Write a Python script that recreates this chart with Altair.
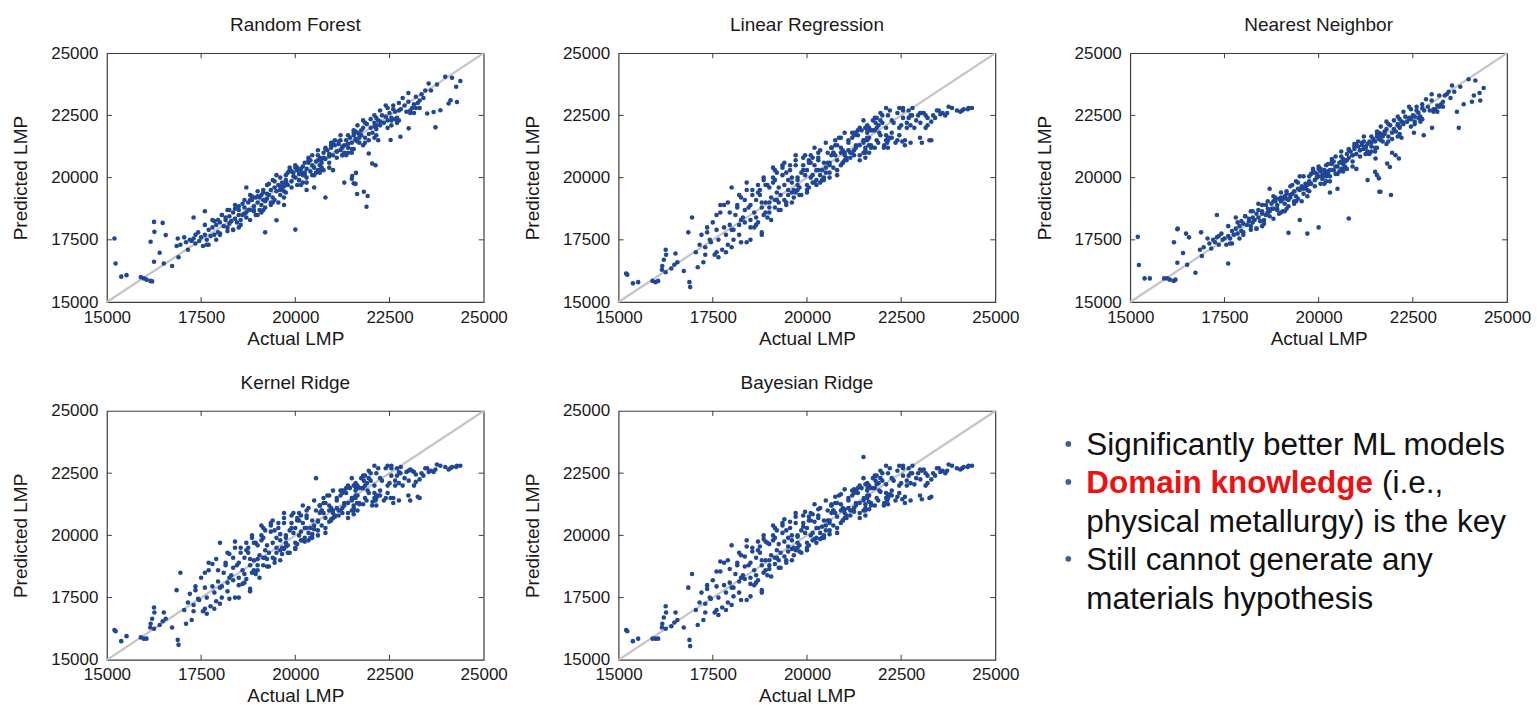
import altair as alt
import pandas as pd

# Actual LMP of the test samples (shared by all five models)
ACTUAL = [
    15200, 15230, 15380, 15520, 15900, 15980, 16050, 16150, 16200, 16160,
    16250, 16260, 16480, 16560, 16400, 16250, 16510, 16730, 16850, 16880,
    16900, 16950, 17050, 17100, 17150, 17200, 17250, 17300, 17350, 17420,
    17450, 17500, 17550, 17600, 17650, 17700, 17750, 17800, 17850, 17900,
    17950, 18000, 18050, 18100, 18150, 18200, 18250, 18300, 18350, 18400,
    17300, 17600, 17800, 18000, 18200, 18400, 18450, 18500, 18550, 18600,
    18650, 18700, 18750, 18800, 18850, 18900, 18950, 19000, 19050, 19100,
    18500, 18600, 18700, 18800, 18900, 19000, 19100, 19150, 19200, 19250,
    19300, 19350, 19400, 19450, 19500, 19550, 19600, 19650, 19700, 19750,
    19200, 19300, 19400, 19500, 19600, 19700, 19800, 19850, 19900, 19950,
    20000, 20050, 20100, 20150, 20200, 20250, 20300, 20350, 20400, 20450,
    19800, 19900, 20000, 20100, 20200, 20300, 20400, 20500, 20550, 20600,
    20650, 20700, 20750, 20800, 20850, 20900, 20950, 21000, 21050, 21100,
    20500, 20600, 20700, 20800, 20900, 21000, 21100, 21150, 21200, 21250,
    21300, 21350, 21400, 21450, 21500, 21550, 21600, 21650, 21700, 21750,
    21200, 21300, 21400, 21500, 21600, 21700, 21800, 21850, 21900, 21950,
    22000, 22050, 22100, 22150, 22200, 22250, 22300, 22350, 22400, 22450,
    21500, 21600, 21640, 21820, 21920, 21890, 21510, 21610, 21550, 22040,
    22130, 21950, 22530, 22790, 23010, 23720, 22500, 22600, 22700, 22800,
    22900, 23000, 23100, 23200, 23300, 23400, 22550, 22750, 22950, 23150,
    23500, 23670, 23850, 24070, 24290, 24120, 23540, 23760, 23980, 24160,
    24380, 24270, 23350, 23250, 23600, 21000, 20500, 20000, 19500, 19000,
    18500, 18000, 20800, 21300, 21800, 22200, 20300, 19700, 19200, 18700,
    20100, 20600, 21100, 21600, 19600, 20900, 21400, 21700, 22100, 20700,
    18250, 18750, 19250, 19750, 20250, 20750, 21250, 21750, 22250, 22650,
    18150, 18650, 19150, 19650, 20150, 20650, 21150, 21650, 22150, 22550,
    17600, 17900, 18200, 18500, 18800, 19100, 19400, 19700, 20000, 20300,
    20600, 20900, 21200, 21500, 21800, 22100, 22400, 22700, 23000, 23300,
    17700, 18050, 18350, 18650, 18950, 19250, 19550, 19850, 20150, 20450,
    20750, 21050, 21350, 21650, 21950, 22250, 22550, 22850, 23150, 23450,
    18900, 19150, 19450, 19750, 20050, 20350, 20650, 20950, 21250, 21550,
    21850, 22150, 22450, 22750, 23050, 19050, 19350, 19950, 20250, 20550,
    17350, 17650, 17950, 18250, 18550, 18850, 19150, 19450, 19750, 20050,
    20350, 20650, 20950, 21250, 21550, 21850, 22150, 22450, 22750, 23050,
    19000, 19600, 20200, 20800, 21400, 22000, 22600, 23200, 18400, 18800,
    19350, 19900, 20450, 21000, 21550, 22100, 22650, 17850, 18350, 18850,
]

PRED_RF = [
    17550, 16550, 16020, 16080, 16000, 15950, 15900, 15850, 15830, 17420,
    18220, 17820, 18180, 17690, 16980, 16620, 16550, 16450, 17250, 17550,
    16800, 17300, 17600, 17400, 17100, 17500, 17450, 17550, 17350, 17800,
    17450, 17600, 17250, 17700, 17500, 17900, 17650, 18000, 17700, 18100,
    17800, 18200, 18500, 18050, 18300, 18000, 18450, 18250, 18600, 18350,
    18400, 18650, 18300, 17750, 17850, 18900, 18200, 18700, 18300, 18500,
    18800, 18600, 19000, 18700, 19100, 18850, 19200, 19000, 18700, 19300,
    18500, 18950, 18400, 19100, 18650, 19250, 18900, 19400, 19050, 19150,
    19300, 19500, 19200, 19600, 19450, 19700, 19500, 19800, 19650, 19900,
    18800, 19750, 19000, 20100, 19300, 19450, 19700, 20400, 19850, 20050,
    20000, 20300, 19900, 20200, 20450, 20100, 20350, 20600, 20250, 20500,
    20200, 19600, 20400, 19900, 20100, 20000, 20700, 20400, 20650, 20300,
    20800, 20600, 21000, 20750, 21100, 20850, 21200, 20900, 21300, 21050,
    20100, 20900, 20400, 21150, 20600, 21350, 20800, 21450, 21100, 21250,
    21300, 21500, 21200, 21600, 21400, 21700, 21500, 21800, 21600, 21900,
    21500, 21000, 21700, 21150, 21850, 21400, 22000, 21600, 22150, 21750,
    22000, 21800, 22200, 21950, 22300, 22100, 22500, 22200, 22450, 22300,
    19950, 19750, 19340, 19430, 19260, 18830, 20060, 20190, 19770, 20570,
    20500, 20970, 21510, 21640, 21980, 22020, 22600, 22900, 22400, 22750,
    22900, 23050, 22800, 23250, 23100, 23200, 22300, 22700, 22650, 22950,
    22580, 22640, 22710, 22980, 23040, 23110, 23780, 23740, 24050, 24010,
    23880, 23650, 23350, 23000, 23500, 20300, 19600, 17910, 18290, 18500,
    18850, 17700, 19200, 19800, 21300, 21500, 19500, 18900, 17800, 19600,
    20150, 20700, 21050, 21550, 19650, 20950, 21350, 21750, 22050, 20750,
    18150, 18700, 19350, 19800, 20200, 20800, 21200, 21700, 22250, 22650,
    18400, 18550, 19100, 19550, 20350, 20500, 21350, 21450, 22100, 22400,
    18100, 17500, 18700, 18000, 19300, 18600, 19900, 19200, 20500, 19800,
    21100, 20400, 21700, 21000, 22300, 21600, 22900, 22200, 23400, 22800,
    17300, 18500, 17900, 19100, 18500, 19700, 19000, 20300, 19700, 20900,
    20300, 21500, 20900, 22100, 21500, 22700, 22100, 23200, 22600, 23500,
    18700, 19500, 19100, 20100, 19700, 20800, 20300, 21400, 20900, 21900,
    22200, 21700, 22800, 22300, 22700, 19200, 18900, 20200, 20600, 20200,
    17700, 17300, 18300, 18700, 18100, 19200, 18700, 19850, 19400, 20400,
    20700, 20200, 21300, 20900, 21800, 21400, 22400, 22000, 23000, 22600,
    19450, 20000, 19800, 21200, 21000, 22350, 22750, 22800, 18750, 18300,
    19000, 20250, 20100, 21400, 21150, 22500, 22350, 18250, 17900, 19250,
]

PRED_NN = [
    17620, 16490, 15950, 15950, 15950, 15950, 15900, 15850, 15900, 17400,
    17930, 17950, 17750, 17600, 16970, 16580, 16500, 16180, 17100, 17800,
    16850, 17200, 17550, 17350, 17150, 17500, 17400, 17600, 17300, 17750,
    17500, 17550, 17300, 17650, 17550, 17850, 17700, 17950, 17750, 18050,
    17850, 18150, 18450, 18100, 18250, 18050, 18400, 18300, 18550, 18400,
    18500, 16550, 18400, 17700, 17900, 18950, 18250, 18650, 18300, 18500,
    18750, 18650, 18950, 18750, 19050, 18900, 19150, 19050, 18650, 19250,
    18550, 18900, 18450, 19050, 18700, 19200, 18950, 19350, 19100, 19200,
    19350, 19450, 19250, 19550, 19500, 19650, 19550, 19750, 19700, 19850,
    18850, 19700, 19050, 20050, 19350, 19500, 19750, 20350, 19900, 20000,
    20050, 20250, 19950, 20150, 20500, 20150, 20300, 20550, 20300, 20450,
    20150, 19650, 20350, 19950, 20050, 20050, 20650, 20450, 20600, 20350,
    20750, 20650, 20950, 20800, 21050, 20900, 21150, 20950, 21250, 21100,
    20150, 20850, 20450, 21100, 20650, 21300, 20850, 21400, 21150, 21200,
    21350, 21450, 21250, 21550, 21450, 21650, 21550, 21750, 21650, 21850,
    21450, 21050, 21650, 21200, 21800, 21450, 21950, 21650, 22100, 21800,
    21950, 21850, 22150, 22000, 22250, 22150, 22450, 22250, 22400, 22350,
    20230, 19970, 19430, 20570, 19300, 20430, 20770, 19430, 20100, 20900,
    20770, 21000, 21800, 21700, 22000, 22000, 22500, 22850, 22450, 22700,
    22850, 23100, 22750, 23300, 23050, 23350, 22250, 22800, 22700, 22900,
    23200, 22650, 22950, 23050, 23100, 23300, 23700, 23650, 23950, 23900,
    23600, 23400, 23300, 22950, 23450, 20350, 19550, 18000, 18300, 18600,
    18900, 17800, 18360, 19900, 21350, 21600, 19400, 17750, 17780, 19550,
    20100, 20650, 21100, 21600, 19600, 20900, 21400, 21700, 22100, 20700,
    18200, 18750, 19300, 19750, 20250, 20700, 21250, 21750, 22200, 22600,
    18350, 18600, 19150, 19600, 20300, 20550, 21300, 21500, 22050, 22450,
    18050, 17550, 18650, 18050, 19250, 18650, 19850, 19250, 20450, 19850,
    21050, 20450, 21650, 21050, 22250, 21650, 22850, 22250, 23350, 22850,
    17350, 18450, 17950, 19050, 18550, 19650, 19050, 20250, 19750, 20850,
    20350, 21450, 20950, 22050, 21550, 22650, 22150, 23150, 22650, 23450,
    18750, 19450, 19150, 20050, 19750, 20750, 20350, 21350, 20950, 21850,
    22150, 21750, 22750, 22350, 22750, 19150, 18950, 20150, 20550, 20250,
    17650, 17350, 18250, 18650, 18150, 19150, 18750, 19800, 19450, 20350,
    20650, 20250, 21250, 20950, 21750, 21450, 22350, 22050, 22950, 22650,
    19400, 20050, 19850, 21150, 21050, 22300, 22700, 22850, 18700, 18350,
    19050, 20200, 20150, 21350, 21200, 22450, 22400, 18200, 17950, 19200,
]

PRED_LR = [
    16150, 16100, 15750, 15800, 15850, 15800, 15850, 16300, 16700, 16450,
    17100, 16900, 16500, 16600, 16350, 16200, 16950, 16250, 17800, 15800,
    15600, 18400, 17000, 16400, 17300, 17700, 16600, 17200, 18000, 17500,
    17400, 18200, 16900, 17900, 17500, 18600, 17100, 18000, 17700, 19000,
    18100, 19600, 17500, 18500, 18900, 17700, 19200, 18400, 18700, 19800,
    16900, 17000, 18900, 17200, 18100, 17400, 18800, 18300, 19300, 18600,
    19100, 18200, 19500, 18800, 19900, 19000, 18400, 19600, 19200, 20000,
    18900, 18000, 19700, 17800, 18600, 19000, 19800, 18800, 19400, 19600,
    19300, 20100, 19700, 18900, 19500, 20300, 19800, 19200, 20500, 19700,
    20200, 18700, 20600, 19900, 20000, 20700, 19600, 20200, 20800, 20100,
    20300, 19600, 20900, 20100, 20500, 19900, 20700, 21100, 20300, 20600,
    19300, 20500, 19500, 20600, 19800, 20300, 19900, 21400, 20600, 20200,
    20900, 20400, 21300, 20700, 21600, 20500, 21100, 21800, 20800, 21400,
    20200, 20000, 21000, 20300, 21200, 20700, 21500, 21000, 21800, 20900,
    21200, 21700, 20900, 21900, 21500, 21100, 22100, 21600, 21300, 22300,
    21600, 21300, 22000, 21400, 21800, 21200, 22400, 21500, 22100, 21700,
    22500, 21300, 22000, 21500, 22700, 21800, 22200, 21400, 22600, 22000,
    21000, 21600, 21300, 22200, 21800, 21400, 21500, 21900, 20800, 21200,
    21400, 22300, 21450, 22500, 22200, 22600, 22100, 21500, 22400, 22800,
    22300, 21600, 22600, 22100, 21500, 22400, 22700, 21400, 22500, 22000,
    22700, 22500, 22800, 22650, 22800, 22700, 22550, 22850, 22700, 22750,
    22800, 22750, 22500, 21500, 22600, 21000, 20400, 19700, 19300, 18800,
    17500, 17900, 20100, 21800, 21900, 21600, 20800, 19400, 19100, 19400,
    20000, 20600, 21100, 21500, 19400, 21000, 21300, 21900, 21700, 21000,
    18300, 19300, 19000, 20000, 20300, 20900, 21100, 21900, 22300, 22000,
    18800, 18400, 19900, 19500, 19800, 21200, 20800, 22000, 21600, 22400,
    18500, 17300, 19300, 18000, 19000, 20400, 19100, 20900, 19400, 21000,
    20500, 21600, 21000, 22300, 21200, 22800, 21500, 22700, 22600, 22250,
    18900, 17900, 19100, 18100, 19700, 18700, 20500, 19300, 20800, 19900,
    21500, 20700, 21900, 21000, 22600, 21600, 22800, 22000, 22500, 22700,
    19700, 19100, 20200, 19500, 20700, 20100, 21200, 20600, 21700, 21200,
    22000, 22500, 21700, 22500, 21400, 18300, 20400, 20900, 19700, 21000,
    17800, 16800, 18600, 17400, 19500, 18500, 20300, 19000, 19900, 20600,
    19800, 21200, 20600, 21800, 21000, 22400, 21200, 22800, 22100, 22600,
    18600, 19000, 21200, 21300, 20700, 22200, 21300, 22400, 19500, 17700,
    20500, 20300, 20000, 20900, 22000, 21500, 22200, 17000, 18200, 20000,
]

PRED_KR = [
    16200, 16150, 15750, 15950, 15900, 15850, 15850, 16300, 16650, 16450,
    17100, 16900, 16550, 16650, 16400, 16250, 16900, 16300, 17800, 15800,
    15600, 18500, 17000, 16450, 17300, 17650, 16600, 17200, 17950, 17450,
    17400, 18300, 16950, 17900, 17500, 18600, 17150, 17950, 17700, 19050,
    18150, 19700, 17500, 18500, 18900, 17750, 19250, 18400, 18700, 19750,
    16950, 17050, 18850, 17250, 18100, 17500, 18800, 18300, 19300, 18600,
    19100, 18250, 19500, 18800, 19900, 19000, 18450, 19600, 19200, 20000,
    18900, 18050, 19700, 17850, 18600, 19050, 19800, 18800, 19400, 19600,
    19300, 20150, 19700, 18900, 19500, 20300, 19800, 19250, 20500, 19700,
    20200, 18750, 20600, 19900, 20050, 20700, 19600, 20200, 20800, 20100,
    20300, 19650, 20900, 20150, 20500, 19900, 20700, 21100, 20300, 20600,
    19300, 20500, 19500, 20600, 19800, 20300, 19900, 21400, 22300, 20200,
    20900, 20400, 21300, 20700, 21600, 20550, 21100, 21800, 20800, 21400,
    20250, 20000, 21000, 20300, 21200, 20700, 21500, 21000, 21800, 20900,
    21200, 21700, 20900, 21900, 21500, 21100, 22100, 21600, 21300, 22300,
    21600, 21300, 22000, 21400, 21800, 21250, 22400, 21500, 22100, 21700,
    22500, 21350, 22000, 21500, 22700, 21800, 22200, 21400, 22700, 22000,
    21000, 21600, 21300, 22200, 21800, 21400, 21500, 21900, 20850, 21200,
    21400, 22300, 21500, 22500, 22200, 22650, 22100, 21500, 22400, 22750,
    22300, 21600, 22600, 22150, 21500, 22400, 22700, 21400, 22550, 22000,
    22700, 22550, 22800, 22650, 22800, 22700, 22550, 22850, 22750, 22750,
    22800, 22750, 22500, 21550, 22600, 21000, 20400, 19700, 19300, 18800,
    17500, 17900, 20100, 21800, 21900, 21600, 20800, 19450, 19100, 19400,
    20000, 20600, 21100, 21500, 19400, 21000, 21300, 21900, 21700, 21000,
    18300, 19300, 19050, 20000, 20300, 20900, 21100, 21900, 22300, 22000,
    18800, 18450, 19900, 19500, 19800, 21200, 20800, 22000, 21600, 22400,
    18500, 17350, 19300, 18000, 19050, 20400, 19100, 20900, 19450, 21000,
    20550, 21600, 21000, 22300, 21250, 22800, 21500, 22700, 22600, 22250,
    18900, 17950, 19100, 18100, 19700, 18750, 20500, 19300, 20800, 19900,
    21500, 20750, 21900, 21000, 22600, 21600, 22800, 22000, 22550, 22700,
    19700, 19100, 20200, 19550, 20700, 20100, 21200, 20600, 21700, 21200,
    22000, 22500, 21700, 22550, 21400, 18300, 20400, 20900, 19750, 21000,
    17800, 16850, 18600, 17450, 19500, 18500, 20300, 19050, 19900, 20600,
    19800, 21200, 20650, 21800, 21000, 22400, 21200, 22800, 22100, 22650,
    18600, 19000, 21200, 21300, 20700, 22200, 21300, 22450, 19500, 17750,
    20500, 20300, 20050, 20900, 22000, 21500, 22200, 17050, 18200, 20000,
]

PRED_BR = [
    16200, 16150, 15750, 15850, 15850, 15850, 15850, 16300, 16700, 16450,
    17150, 16900, 16500, 16600, 16350, 16250, 16900, 16300, 17900, 15800,
    15550, 18450, 17000, 16400, 17300, 17700, 16600, 17250, 18000, 17500,
    17450, 18200, 16900, 17950, 17500, 18550, 17100, 18000, 17700, 19000,
    18100, 19600, 17550, 18450, 18900, 17700, 19200, 18400, 18750, 19800,
    16900, 17000, 18900, 17200, 18150, 17400, 18800, 18300, 19350, 18600,
    19100, 18200, 19550, 18800, 19850, 19000, 18400, 19650, 19200, 20000,
    18900, 18000, 19750, 17800, 18600, 19000, 19800, 18850, 19400, 19650,
    19300, 20100, 19750, 18900, 19550, 20300, 19800, 19200, 20500, 19700,
    20200, 18700, 20650, 19900, 20000, 20750, 19600, 20200, 20800, 20100,
    20300, 19600, 20900, 20100, 20550, 19900, 20700, 21100, 20350, 20600,
    19350, 20500, 19500, 20600, 19850, 20300, 19900, 21400, 20600, 20200,
    20900, 20400, 21300, 20750, 21600, 20500, 21100, 21850, 20800, 21400,
    20200, 20050, 21000, 20300, 21250, 20700, 21500, 21000, 21800, 20950,
    21200, 21700, 20900, 21900, 23150, 21100, 22100, 21600, 21300, 22300,
    21600, 21300, 22000, 21400, 21800, 21200, 22400, 21500, 22100, 21750,
    22500, 21300, 22050, 21500, 22700, 21800, 22200, 21400, 22600, 22000,
    21000, 21600, 21350, 22200, 21800, 21400, 21500, 21900, 20800, 21200,
    21400, 22300, 21450, 22500, 22250, 22600, 22100, 21550, 22400, 22800,
    22300, 21600, 22650, 22100, 21550, 22400, 22700, 21400, 22500, 22000,
    22700, 22500, 22800, 22650, 22800, 22700, 22550, 22850, 22700, 22750,
    22800, 22750, 22500, 21500, 22600, 21050, 20400, 19700, 19350, 18800,
    17550, 17900, 20100, 21800, 21900, 21650, 20800, 19400, 19100, 19400,
    20000, 20600, 21100, 21500, 19450, 21000, 21300, 21900, 21700, 21000,
    18300, 19300, 19000, 20000, 20300, 20900, 21100, 21900, 22300, 22000,
    18800, 18400, 19900, 19500, 19800, 21200, 20800, 22000, 21600, 22400,
    18550, 17300, 19300, 18050, 19000, 20400, 19150, 20900, 19400, 21050,
    20500, 21650, 21000, 22300, 21200, 22800, 21550, 22700, 22650, 22250,
    18950, 17900, 19150, 18100, 19700, 18700, 20550, 19300, 20850, 19900,
    21550, 20700, 21900, 21050, 22600, 21600, 22800, 22050, 22500, 22700,
    19750, 19100, 20200, 19500, 20750, 20100, 21250, 20600, 21700, 21250,
    22050, 22500, 21700, 22500, 21450, 18350, 20400, 20950, 19700, 21000,
    17850, 16800, 18650, 17400, 19500, 18500, 20300, 19000, 19950, 20600,
    19850, 21200, 20600, 21850, 21000, 22400, 21250, 22800, 22100, 22600,
    18650, 19000, 21250, 21300, 20700, 22200, 21300, 22400, 19550, 17700,
    20500, 20350, 20000, 20900, 22050, 21500, 22200, 17000, 18250, 20000,
]

TICKS = [15000, 17500, 20000, 22500, 25000]
DIAG = [15000, 25000]
MODELS = ["Random Forest", "Linear Regression", "Nearest Neighbor", "Kernel Ridge", "Bayesian Ridge"]
PREDS = [PRED_RF, PRED_LR, PRED_NN, PRED_KR, PRED_BR]

BULLET_LINES = ["Significantly better ML models", "Domain knowledge", "(i.e.,",
                "physical metallurgy) is the key", "Still cannot generate any",
                "materials hypothesis"]

W, H = 377, 249
DOT = "#1f4796"
FRAME = "#3c3c3c"
FONT = "Liberation Sans"

for p in PREDS:
    assert len(p) == len(ACTUAL)


def panel(title, preds):
    df = pd.DataFrame({"actual": ACTUAL, "pred": preds})
    xs = alt.Scale(domain=[15000, 25000], nice=False, zero=False)
    ys = alt.Scale(domain=[15000, 25000], nice=False, zero=False)
    xax = alt.Axis(values=TICKS, format="d", title="Actual LMP", labelFlush=False,
                   labelOverlap=False, labelPadding=7, titlePadding=4)
    yax = alt.Axis(values=TICKS, format="d", title="Predicted LMP", labelFlush=False,
                   labelOverlap=False, labelPadding=9, titlePadding=20)
    diag = alt.Chart(pd.DataFrame({"a": DIAG, "p": DIAG})).mark_line(
        color="#c4c4c4", strokeWidth=2.2
    ).encode(x=alt.X("a:Q", scale=xs, axis=xax), y=alt.Y("p:Q", scale=ys, axis=yax))
    pts = alt.Chart(df).mark_circle(size=21, opacity=1, color=DOT).encode(
        x=alt.X("actual:Q", scale=xs, axis=xax), y=alt.Y("pred:Q", scale=ys, axis=yax)
    )
    tdf = pd.DataFrame({"t": TICKS[1:-1]})
    bottom = alt.Chart(tdf).mark_rule(color=FRAME).encode(
        x=alt.X("t:Q", scale=xs, axis=xax), y=alt.value(H), y2=alt.value(H - 5))
    top = alt.Chart(tdf).mark_rule(color=FRAME).encode(
        x=alt.X("t:Q", scale=xs, axis=xax), y=alt.value(0), y2=alt.value(5))
    left = alt.Chart(tdf).mark_rule(color=FRAME).encode(
        y=alt.Y("t:Q", scale=ys, axis=yax), x=alt.value(0), x2=alt.value(5))
    right = alt.Chart(tdf).mark_rule(color=FRAME).encode(
        y=alt.Y("t:Q", scale=ys, axis=yax), x=alt.value(W), x2=alt.value(W - 5))
    return alt.layer(diag, pts, bottom, top, left, right).properties(
        width=W, height=H,
        title=alt.TitleParams(title, fontSize=19, font=FONT, fontWeight="normal",
                              color="#1a1a1a", offset=9, anchor="middle"),
    )


def txt(s, x, y, color="#111111", weight="normal"):
    return alt.Chart(pd.DataFrame({"t": [s]})).mark_text(
        font=FONT, fontSize=31.5, align="left", baseline="alphabetic",
        color=color, fontWeight=weight
    ).encode(text="t:N", x=alt.value(x), y=alt.value(y))


def bullet(y):
    return alt.Chart(pd.DataFrame({"t": [1]})).mark_circle(
        size=34, color="#3e5f94", opacity=1
    ).encode(x=alt.value(-62), y=alt.value(y))


TX = -44
BASE = [44, 82, 121, 159, 198]
text_panel = alt.layer(
    bullet(BASE[0] - 11), txt(BULLET_LINES[0], TX, BASE[0]),
    bullet(BASE[1] - 11), txt(BULLET_LINES[1], TX, BASE[1], color="#ee1111", weight="bold"),
    txt(BULLET_LINES[2], 252, BASE[1]),
    txt(BULLET_LINES[3], TX, BASE[2]),
    bullet(BASE[3] - 11), txt(BULLET_LINES[4], TX, BASE[3]),
    txt(BULLET_LINES[5], TX, BASE[4]),
).properties(width=W, height=H, view=alt.ViewBackground(strokeOpacity=0))

panels = [panel(m, p) for m, p in zip(MODELS, PREDS)]

chart = alt.concat(
    *panels, text_panel, columns=3, spacing=alt.RowColnumber(row=109, column=135),
    bounds="flush",
).properties(
    padding={"left": 11, "top": 15, "right": 5, "bottom": 5},
    background="white",
).configure_axis(
    labelFont=FONT, titleFont=FONT, labelFontSize=17, titleFontSize=19,
    titleFontWeight="normal", labelColor="#1a1a1a", titleColor="#1a1a1a",
    grid=False, ticks=False, domain=False,
).configure_view(stroke=FRAME, strokeWidth=1.2)

chart.save("out.html", embed_options={"renderer": "svg", "actions": False})
